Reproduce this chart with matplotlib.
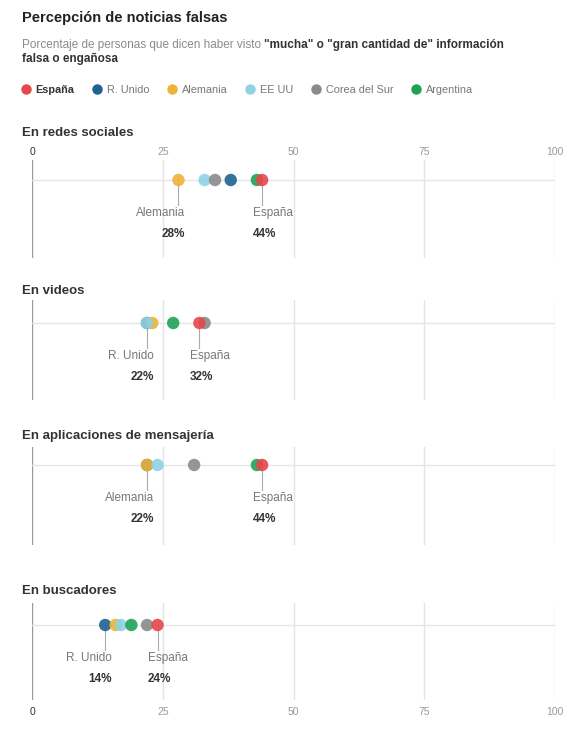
import numpy as np
import matplotlib.pyplot as plt

plt.rcParams['font.family'] = ['Liberation Sans', 'DejaVu Sans']

countries = ['España', 'R. Unido', 'Alemania', 'EE UU', 'Corea del Sur', 'Argentina']
colors = ['#e8454d', '#1f6391', '#efb236', '#8ed2e4', '#8a8a8a', '#1ea356']

panels = ['En redes sociales', 'En videos', 'En aplicaciones de mensajería', 'En buscadores']
redes = [44, 38, 28, 33, 35, 43]
videos = [32, 22, 23, 22, 33, 27]
mensajeria = [44, 22, 22, 24, 31, 43]
buscadores = [24, 14, 16, 17, 22, 19]
values = [redes, videos, mensajeria, buscadores]
label_left = ['Alemania', 'R. Unido', 'Alemania', 'R. Unido']
ticks = [0, 25, 50, 75, 100]

W, H = 578, 732
fig = plt.figure(figsize=(W / 100, H / 100), dpi=100)
fig.patch.set_facecolor('white')

def fx(px):
    return px / W

def fy(py):
    return 1 - py / H

# title and subtitle
fig.text(fx(22), fy(18), 'Percepción de noticias falsas', fontsize=10.5, fontweight='bold',
         color='#222222', va='center')
r = fig.canvas.get_renderer()
t1 = fig.text(fx(22), fy(45), 'Porcentaje de personas que dicen haber visto ', fontsize=8.5,
              color='#8a8a8a', va='center')
bb = t1.get_window_extent(renderer=r)
fig.text(bb.x1 / W, fy(45), '"mucha" o "gran cantidad de" información', fontsize=8.5,
         fontweight='bold', color='#333333', va='center')
fig.text(fx(22), fy(59), 'falsa o engañosa', fontsize=8.5, fontweight='bold',
         color='#333333', va='center')

# legend
handles = [plt.Line2D([], [], marker='o', ls='', color=c, markersize=6.5) for c in colors]
leg = fig.legend(handles, countries, loc='center left', bbox_to_anchor=(fx(16), fy(90)),
                 ncol=6, frameon=False, fontsize=7.8, handletextpad=0.5, borderpad=0,
                 columnspacing=1.7, handlelength=0.8)
for txt in leg.get_texts():
    txt.set_color('#777777')
leg.get_texts()[0].set_fontweight('bold')
leg.get_texts()[0].set_color('#333333')

# panels: (title y, axes top, axes bottom, line y)
layout = [(133, 160, 258, 180), (291, 300, 400, 323), (436, 447, 545, 465), (591, 603, 700, 625)]
x0, x1 = 32, 555
order = [1, 2, 3, 4, 5, 0]

for i, (name, vals) in enumerate(zip(panels, values)):
    ty, top, bot, ly = layout[i]
    fig.text(fx(22), fy(ty), name, fontsize=9.5, fontweight='bold', color='#333333', va='center')
    ax = fig.add_axes([fx(x0), fy(bot), fx(x1 - x0), (bot - top) / H])
    ax.set_xlim(0, 100)
    ax.set_ylim(bot - top, 0)
    ax.set_facecolor('none')
    for s in ax.spines.values():
        s.set_visible(False)
    for t in ticks:
        ax.axvline(t, color='#9a9a9a' if t == 0 else '#e4e4e4', lw=1, zorder=0)
    ly_ax = ly - top
    ax.axhline(ly_ax, color='#e6e6e6', lw=1, zorder=0.5)
    for k in order:
        ax.scatter(vals[k], ly_ax, s=80, color=colors[k], alpha=0.9, edgecolors='none', zorder=3)

    # annotations
    left_idx = countries.index(label_left[i])
    for k, ha, off in [(left_idx, 'right', 1.3), (0, 'left', -1.8)]:
        v = vals[k]
        ax.plot([v, v], [ly_ax, ly_ax + 25], color='#aaaaaa', lw=0.8, zorder=1)
        ax.text(v + off, ly_ax + 33, countries[k], ha=ha, va='center', fontsize=8.5, color='#777777')
        ax.text(v + off, ly_ax + 54, f'{v}%', ha=ha, va='center', fontsize=8.5,
                fontweight='bold', color='#333333')

    ax.set_yticks([])
    ax.set_xticks(ticks)
    ax.tick_params(length=0, labelsize=7.5, labelcolor='#999999', pad=2)
    if i == 0:
        ax.tick_params(labeltop=True, labelbottom=False)
    elif i == 3:
        ax.tick_params(labeltop=False, labelbottom=True, pad=5)
    else:
        ax.tick_params(labeltop=False, labelbottom=False)
    for lab in ax.get_xticklabels():
        if lab.get_text() == '0':
            lab.set_color('#333333')

fig.savefig('out.png', dpi=100, facecolor='white')
